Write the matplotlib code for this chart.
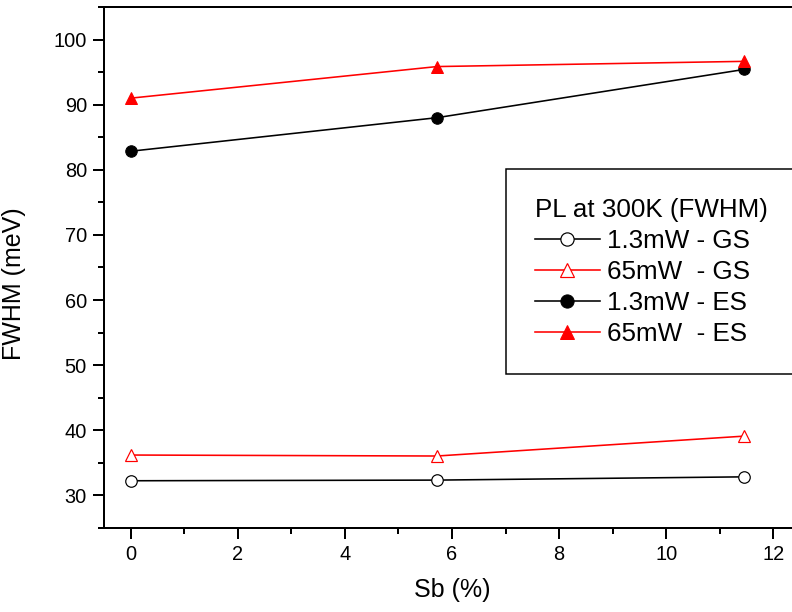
import matplotlib.pyplot as plt
from matplotlib.ticker import MultipleLocator

plt.rcParams['font.family'] = ['Liberation Sans', 'DejaVu Sans']

# Sb content (%)
sb = [0, 5.72, 11.45]

# FWHM (meV)
gs_low = [32.25, 32.35, 32.85]
gs_high = [36.2, 36.05, 39.1]
es_low = [82.85, 88.0, 95.4]
es_high = [91.0, 95.85, 96.65]

labels = ["1.3mW - GS", "65mW  - GS", "1.3mW - ES", "65mW  - ES"]

fig = plt.figure(figsize=(11, 8.5), dpi=72)
ax = fig.add_axes([0.1313, 0.1373, 0.8788, 0.8513])

ms = 11.5
ax.plot(sb, gs_low, '-o', color='black', mfc='white', mec='black', ms=ms, lw=1.6, mew=1.2, label=labels[0])
ax.plot(sb, gs_high, '-^', color='red', mfc='white', mec='red', ms=ms + 1, lw=1.6, mew=1.2, label=labels[1])
ax.plot(sb, es_low, '-o', color='black', ms=ms, lw=1.6, label=labels[2])
ax.plot(sb, es_high, '-^', color='red', ms=ms + 1, lw=1.6, label=labels[3])

ax.set_xlim(-0.5, 12.5)
ax.set_ylim(25, 105)
ax.xaxis.set_major_locator(MultipleLocator(2))
ax.xaxis.set_minor_locator(MultipleLocator(1))
ax.yaxis.set_major_locator(MultipleLocator(10))
ax.yaxis.set_minor_locator(MultipleLocator(5))
ax.tick_params(which='major', direction='out', length=11, width=2, labelsize=20, pad=6)
ax.tick_params(which='minor', direction='out', length=6, width=2)
ax.tick_params(top=False, right=False)
for s in ax.spines.values():
    s.set_linewidth(2)

ax.set_xlabel("Sb (%)", fontsize=25, labelpad=14)
ax.set_ylabel("FWHM (meV)", fontsize=25)
ax.yaxis.set_label_coords(-0.112, 0.468)

leg = ax.legend(title="PL at 300K (FWHM)", fontsize=26, title_fontsize=26,
                loc='upper left', bbox_to_anchor=(506 / 792, 1 - 169 / 612),
                bbox_transform=fig.transFigure, borderaxespad=0, fancybox=False,
                framealpha=1, edgecolor='black', handlelength=2.5, handletextpad=0.3,
                labelspacing=0.27, borderpad=1.1, markerscale=1.15, alignment='left')
leg.get_frame().set_linewidth(1.5)

fig.savefig("out.png", dpi=72)
